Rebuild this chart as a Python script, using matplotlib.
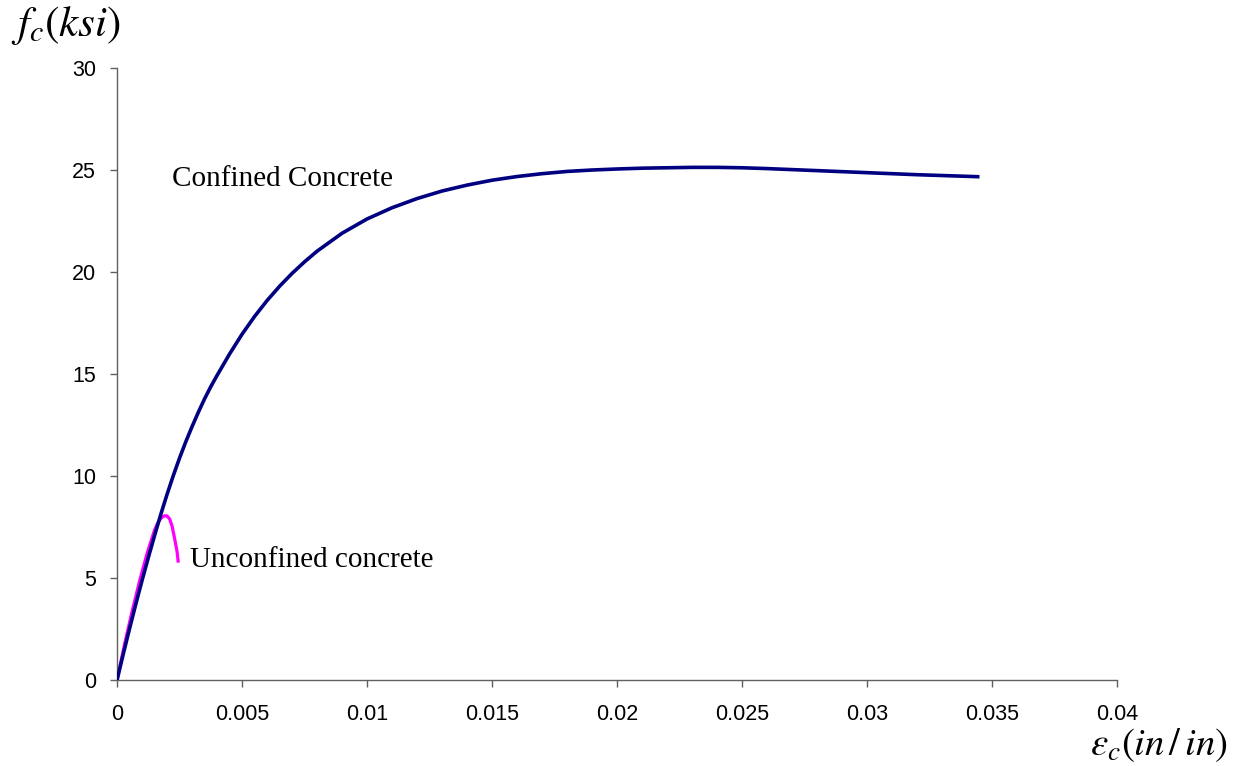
import matplotlib
matplotlib.use('Agg')
import matplotlib.pyplot as plt
from matplotlib import rcParams
from matplotlib.ticker import FixedLocator, FuncFormatter

# confined concrete (strain in/in, stress ksi)
eps_conf = [0, 0.00025, 0.0005, 0.00075, 0.001, 0.00125, 0.0015, 0.00175,
            0.002, 0.00225, 0.0025, 0.00275, 0.003, 0.00325, 0.0035, 0.00375,
            0.004, 0.0045, 0.005, 0.0055, 0.006, 0.0065, 0.007, 0.0075, 0.008,
            0.009, 0.010, 0.011, 0.012, 0.013, 0.014, 0.015, 0.016, 0.017,
            0.018, 0.019, 0.020, 0.021, 0.022, 0.023, 0.024, 0.025, 0.026,
            0.027, 0.028, 0.029, 0.030, 0.031, 0.032, 0.033, 0.034, 0.0345]
fc_conf = [0, 1.28, 2.52, 3.72, 4.88, 6.0, 7.08, 8.12,
           9.1, 10.02, 10.88, 11.68, 12.42, 13.12, 13.78, 14.38,
           14.93, 15.98, 16.95, 17.82, 18.6, 19.3, 19.93, 20.5, 21.02,
           21.9, 22.6, 23.15, 23.6, 23.97, 24.26, 24.5, 24.68, 24.82,
           24.93, 25.0, 25.05, 25.09, 25.11, 25.13, 25.13, 25.11, 25.07,
           25.02, 24.97, 24.92, 24.87, 24.82, 24.77, 24.73, 24.69, 24.67]

# unconfined concrete
eps_unc = [0, 0.0003, 0.0006, 0.0009, 0.0012, 0.0015, 0.0016, 0.0017,
           0.0018, 0.0019, 0.002, 0.0021, 0.0022, 0.0023, 0.0024, 0.00245]
fc_unc = [0, 1.75, 3.35, 4.85, 6.2, 7.35, 7.62, 7.84,
          7.98, 8.05, 8.04, 7.9, 7.55, 6.95, 6.3, 5.75]

x_ticks = [0, 0.005, 0.01, 0.015, 0.02, 0.025, 0.03, 0.035, 0.04]
y_ticks = [0, 5, 10, 15, 20, 25, 30]

rcParams.update({
    'font.family': 'sans-serif',
    'font.sans-serif': ['Liberation Sans', 'DejaVu Sans'],
    'mathtext.fontset': 'stix',
})

fig = plt.figure(figsize=(12.4, 7.66), dpi=100)
ax = fig.add_axes([0.0944, 0.1123, 0.8064, 0.7989])

ax.plot(eps_unc, fc_unc, color='#ff00ff', lw=2.3, zorder=2,
        solid_capstyle='butt', solid_joinstyle='round')
ax.plot(eps_conf, fc_conf, color='#000080', lw=2.6, zorder=3,
        solid_capstyle='butt', solid_joinstyle='round')

ax.set_xlim(0, 0.04)
ax.set_ylim(0, 30)
ax.xaxis.set_major_locator(FixedLocator(x_ticks))
ax.yaxis.set_major_locator(FixedLocator(y_ticks))
ax.xaxis.set_major_formatter(FuncFormatter(lambda v, p: '%g' % v))
ax.yaxis.set_major_formatter(FuncFormatter(lambda v, p: '%g' % v))

for s in ['top', 'right']:
    ax.spines[s].set_visible(False)
for s in ['left', 'bottom']:
    ax.spines[s].set_color('#606060')
    ax.spines[s].set_linewidth(1.0)
ax.tick_params(axis='both', direction='out', length=5, width=1.0,
               color='#606060', labelsize=15.5)
ax.tick_params(axis='x', pad=12)
ax.tick_params(axis='y', pad=10)

ax.text(0.0022, 24.56, 'Confined Concrete', family='Liberation Serif',
        fontsize=21, va='center', ha='left')
ax.text(0.00292, 5.88, 'Unconfined concrete', family='Liberation Serif',
        fontsize=21, va='center', ha='left')

fig.text(0.009, 0.995, r'$f_c(ksi)$', fontsize=31, ha='left', va='top')
fig.text(0.99, 0.002, r'$\varepsilon_c(in\,/\,in)$', fontsize=28,
         ha='right', va='bottom')

plt.savefig('out.png', dpi=100)
